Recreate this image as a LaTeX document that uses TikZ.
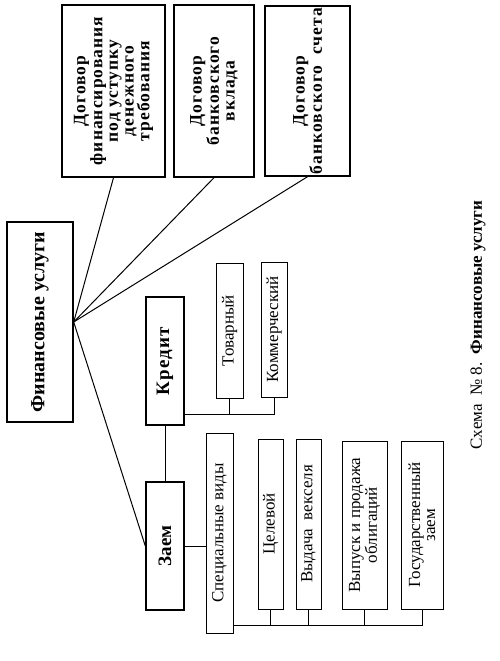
\documentclass[tikz,border=0pt]{standalone}
\usepackage{fontspec}
\setmainfont{Liberation Serif}
\usetikzlibrary{calc}

\tikzset{
  box/.style={draw, rotate=90, inner sep=1pt, align=center},
  headbox/.style={box, line width=1.4pt, font=\bfseries\fontsize{17.5}{15.7}\selectfont\addfontfeature{LetterSpace=6}},
  subbox/.style={box, line width=1pt, font=\fontsize{17}{15}\selectfont},
  link/.style={line width=1pt}
}

\begin{document}
\begin{tikzpicture}[x=1pt,y=-1pt]
        \useasboundingbox (0,0) rectangle (500,661);
        % contracts along the top
        \node[headbox, minimum width=172, minimum height=103] (dfin) at (113.5,91) {Договор\\финансирования\\под уступку\\денежного\\требования};
        \node[headbox, minimum width=172, minimum height=80] (dvkl) at (214,91) {Договор\\банковского\\вклада};
        \node[headbox, minimum width=170, minimum height=85] (dsch) at (307.5,91) {Договор\\банковского~~счета};
        % main box, credit and loan
        \node[headbox, font=\bfseries\fontsize{20}{22}\selectfont, minimum width=200, minimum height=66] (fin) at (40,322) {Финансовые услуги};
        \node[headbox, font=\bfseries\fontsize{19}{21}\selectfont\addfontfeature{LetterSpace=6}, minimum width=128, minimum height=38] (kred) at (165,361) {Кредит};
        \node[headbox, font=\bfseries\fontsize{19}{21}\selectfont, minimum width=128, minimum height=38] (zaem) at (165,546) {Заем};
        % kinds of credit
        \node[subbox, minimum width=135, minimum height=27] (tov) at (229.5,330.5) {Товарный};
        \node[subbox, minimum width=135, minimum height=26] (komm) at (274,329.5) {Коммерческий};
        % kinds of loan
        \node[subbox, minimum width=200, minimum height=27] (spec) at (219.5,533) {Специальные виды};
        \node[subbox, minimum width=170, minimum height=25] (cel) at (270.5,524) {Целевой};
        \node[subbox, minimum width=170, minimum height=25] (vyd) at (308.5,524) {Выдача~~векселя};
        \node[subbox, minimum width=168, minimum height=45] (vyp) at (364.5,525) {Выпуск и продажа\\облигаций};
        \node[subbox, minimum width=168, minimum height=42] (gos) at (422,525) {Государственный\\заем};

        \foreach \t in {dfin,dvkl,dsch} \draw[link] (fin.south) -- (\t.west);
        \draw[link] (fin.south) -- (zaem.north);
        \draw[link] (kred.west) -- (zaem.east);

        \coordinate (kbus) at ($(kred.south west)+(0,-11)$);
        \draw[link] (kbus) -| (komm.west);
        \draw[link] (tov.west) -- (tov.west |- kbus);

        \draw[link] (zaem.south) -- (zaem.south -| spec.north);
        \coordinate (zbus) at ($(spec.south west)+(0,-8)$);
        \draw[link] (zbus) -| (gos.west);
        \foreach \n in {cel,vyd,vyp} \draw[link] (\n.west) -- (\n.west |- zbus);

        \node[rotate=90, font=\fontsize{17}{20}\selectfont] (cap) at (478,325) {Схема~~№~8.~~\textbf{Финансовые услуги}};
    \end{tikzpicture}
\end{document}
